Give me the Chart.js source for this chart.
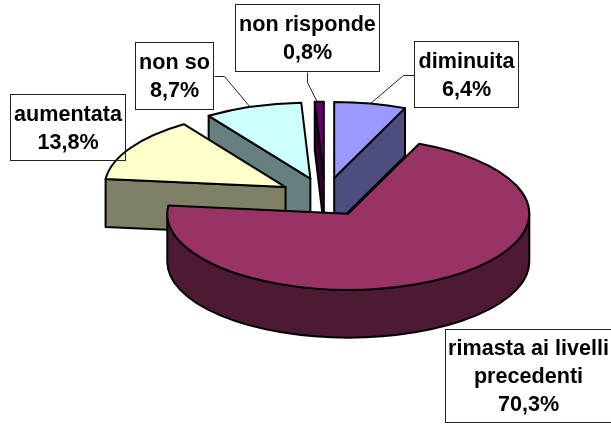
<!DOCTYPE html>
<html><head><meta charset="utf-8">
<style>html,body{margin:0;padding:0;background:#fff}canvas{display:block}</style>
<script src="https://cdn.jsdelivr.net/npm/chart.js@4"></script>
</head><body>
<canvas id="c" width="611" height="425"></canvas>
<script>
const categories = ['diminuita', 'rimasta ai livelli\nprecedenti', 'aumentata', 'non so', 'non risponde'];
const percentages = [6.4, 70.3, 13.8, 8.7, 0.8];
const topColors = ['#9999FF', '#993366', '#FFFFCC', '#CCFFFF', '#660066'];
const sideColors = ['#4D4D80', '#4D1933', '#808066', '#668080', '#330033'];
// label boxes: left, top, right, bottom
const labelBoxes = [[414,41,519,108],[445,329,612,423],[10,94,126,161],[135,42,214,110],[235,4,380,72]];
const leaders = [[[414,75],[403,75],[370,103]], null, null, [[214,76],[224,76],[250,107]], [[307,72],[307,82],[317,102]]];
const TILT = 0.42, DEPTH = 48, EXPLODE = 46, RADIUS = 181;
const drawOrder = [4, 0, 3, 2, 1];

const pie3d = {
  id: 'pie3d',
  beforeDatasetsDraw(chart) {
    const ctx = chart.ctx, arcs = chart.getDatasetMeta(0).data;
    for (const i of drawOrder) {
      const arc = arcs[i];
      const a0 = arc.startAngle, a1 = arc.endAngle, mid = (a0 + a1) / 2, r = arc.outerRadius;
      const cx = arc.x + Math.cos(mid) * EXPLODE, cy = arc.y + Math.sin(mid) * EXPLODE * TILT;
      ctx.save();
      ctx.lineWidth = 2; ctx.strokeStyle = '#000'; ctx.lineJoin = 'round'; ctx.fillStyle = sideColors[i];
      // flat cut faces turned toward the viewer
      for (const [a, n] of [[a0, a0 - Math.PI / 2], [a1, a1 + Math.PI / 2]]) {
        if (Math.sin(n) > 0.001) {
          const x = cx + Math.cos(a) * r, y = cy + Math.sin(a) * r * TILT;
          ctx.beginPath();
          ctx.moveTo(cx, cy); ctx.lineTo(x, y); ctx.lineTo(x, y + DEPTH); ctx.lineTo(cx, cy + DEPTH); ctx.closePath();
          ctx.fill(); ctx.stroke();
        }
      }
      // curved outer wall: the lower half of the ellipse
      const w0 = Math.max(a0, 0), w1 = Math.min(a1, Math.PI);
      if (w1 > w0) {
        ctx.beginPath();
        ctx.ellipse(cx, cy, r, r * TILT, 0, w0, w1);
        ctx.ellipse(cx, cy + DEPTH, r, r * TILT, 0, w1, w0, true);
        ctx.closePath();
        ctx.fill(); ctx.stroke();
      }
      // top face: library arc, squashed
      ctx.save();
      ctx.translate(cx, cy); ctx.scale(1, TILT); ctx.translate(-arc.x, -arc.y);
      arc.draw(ctx);
      ctx.restore();
      ctx.beginPath();
      ctx.moveTo(cx, cy);
      ctx.ellipse(cx, cy, r, r * TILT, 0, a0, a1);
      ctx.closePath();
      ctx.stroke();
      ctx.restore();
    }
    return false;
  },
  afterDraw(chart) {
    const ctx = chart.ctx;
    ctx.save();
    ctx.lineWidth = 1; ctx.strokeStyle = '#222';
    leaders.forEach(l => {
      if (!l) return;
      ctx.beginPath();
      l.forEach((p, k) => k ? ctx.lineTo(p[0] + .5, p[1] + .5) : ctx.moveTo(p[0] + .5, p[1] + .5));
      ctx.stroke();
    });
    ctx.font = 'bold 21.6px "Liberation Sans", Arial, sans-serif';
    ctx.textAlign = 'center'; ctx.textBaseline = 'alphabetic';
    categories.forEach((name, i) => {
      const [l, t, r, b] = labelBoxes[i];
      ctx.strokeRect(l + .5, t + .5, r - l - 1, b - t - 1);
      const lines = name.split('\n').concat(String(percentages[i]).replace('.', ',') + '%');
      const mid = (t + b) / 2, step = 28;
      ctx.fillStyle = '#000';
      lines.forEach((s, k) => ctx.fillText(s, (l + r) / 2, mid + 7 + (k - (lines.length - 1) / 2) * step));
    });
    ctx.restore();
  }
};

new Chart(document.getElementById('c'), {
  type: 'pie',
  data: { labels: categories, datasets: [{ data: percentages, backgroundColor: topColors, borderWidth: 0, offset: 0 }] },
  options: {
    responsive: false, animation: false, radius: RADIUS,
    layout: { padding: { left: 39, right: 0, top: 0, bottom: 31 } },
    plugins: { legend: { display: false }, tooltip: { enabled: false }, title: { display: false } }
  },
  plugins: [pie3d]
});
</script>
</body></html>
